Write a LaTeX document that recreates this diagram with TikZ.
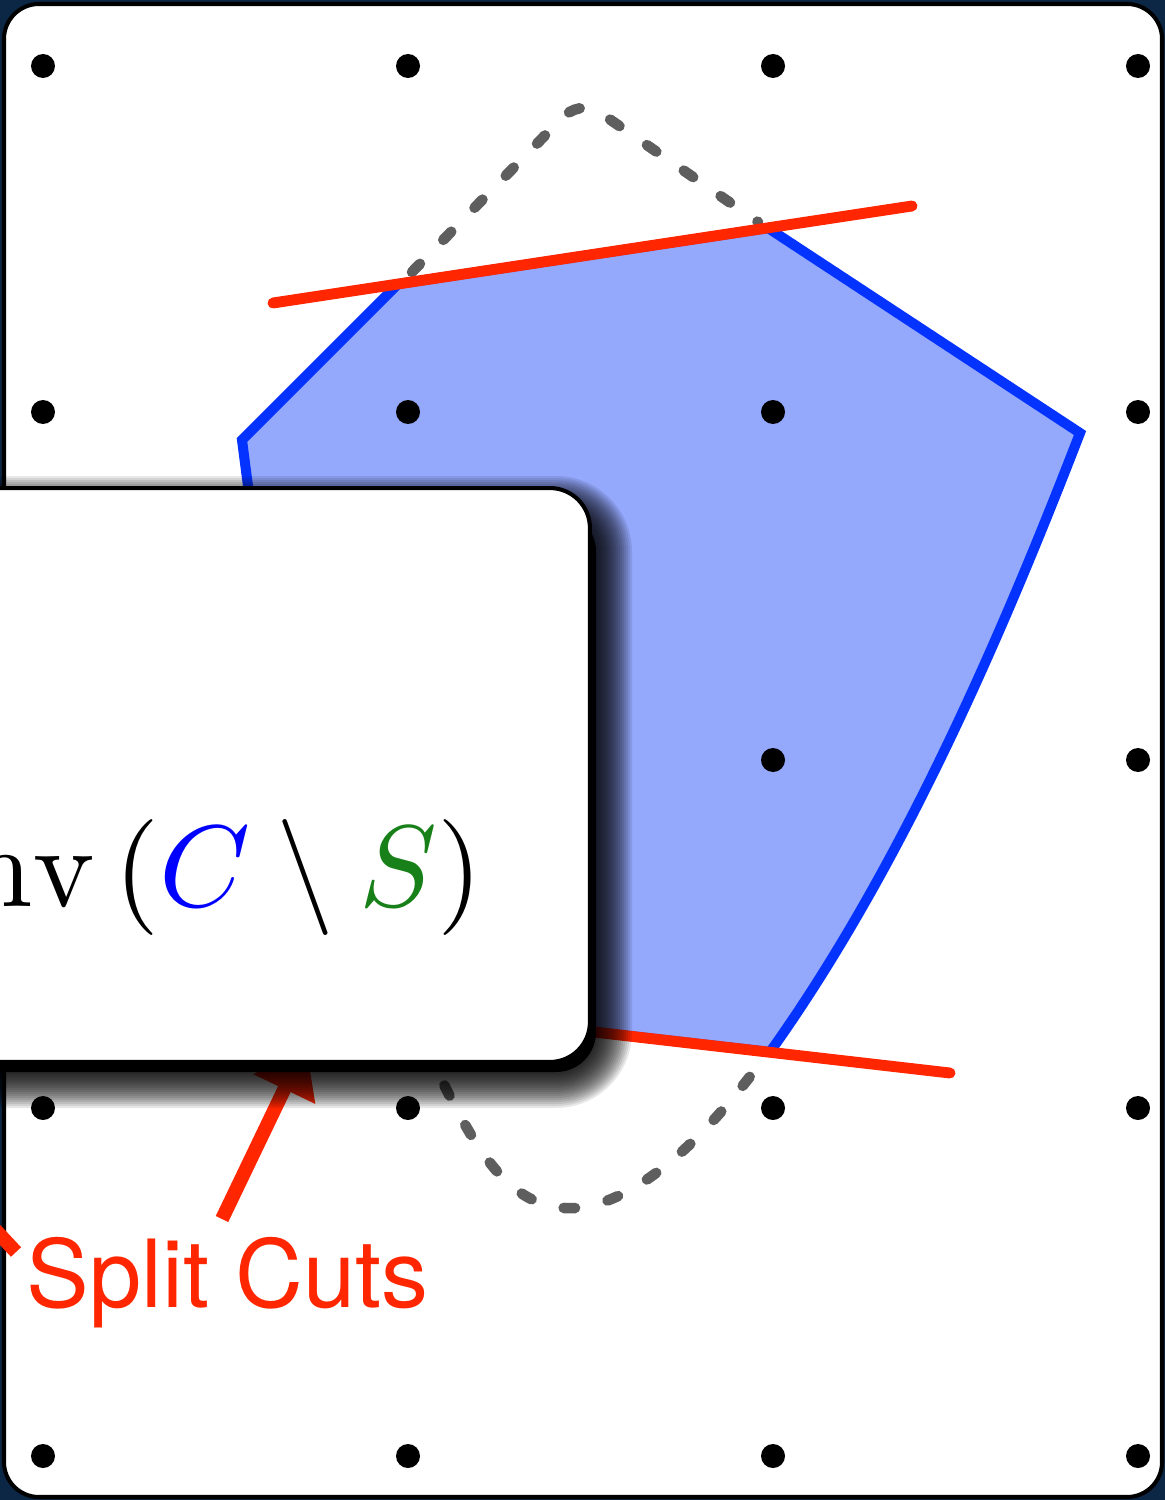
\documentclass[tikz,border=0pt]{standalone}
\usepackage{fontspec}
\newfontfamily\helv{TeX Gyre Heros}
\usetikzlibrary{arrows.meta}
\definecolor{slidebg}{RGB}{12,38,70}
\definecolor{cutred}{RGB}{255,38,0}
\definecolor{hullblue}{RGB}{4,51,255}
\definecolor{hullfill}{RGB}{148,168,252}
\definecolor{setgray}{RGB}{94,94,94}
\definecolor{sgreen}{RGB}{24,128,24}

\begin{document}
\begin{tikzpicture}[x=0.02cm, y=-0.02cm,
        frame/.style={draw=black, line width=2.3pt, fill=white, rounded corners=0.7cm},
        hull/.style={draw=hullblue, line width=5.7pt, fill=hullfill, line join=miter},
        orig/.style={draw=setgray, line width=6pt, line cap=round,
            dash pattern=on 6.5pt off 19pt},
        cut/.style={draw=cutred, line width=6.2pt, line cap=round},
        pointer/.style={draw=cutred, line width=7.9pt,
            -{Triangle[length=1cm, width=1.3cm]}},
        callout/.style={draw=black, line width=2.3pt, fill=white, rounded corners=0.8cm,
            minimum width=17.2cm, minimum height=11.48cm, inner sep=0pt}
    ]
    \useasboundingbox (0,0) rectangle (1165,1500);
    \clip (0,0) rectangle (1165,1500);
    \fill[slidebg] (0,0) rectangle (1165,1500);
    \draw[frame] (4,4) rectangle (1162,1497);

    % the set C
    \draw[orig] (412,272) -- (560,120) .. controls (572,107) and (586,104) .. (602,114) -- (758,222);
    \draw[orig] (425,1045) .. controls (470,1140) and (505,1212) .. (575,1208)
        .. controls (645,1203) and (720,1120) .. (768,1052);

    % the hull
    \draw[hull] (242,440) -- (398,284) -- (768,228) -- (1080,433)
        .. controls (1000,640) and (900,870) .. (770,1052) -- (450,1015.5) -- (255,540) -- cycle;

    \draw[cut] (273,303) -- (912,206);
    \draw[cut] (420,1012) -- (950,1073);

    \foreach \x in {43,408,773,1138}
        \foreach \y in {66,412,760,1108,1456}
            \fill (\x,\y) circle[radius=0.24cm];

    \node[text=cutred, font=\helv\fontsize{53.5}{60}\selectfont, anchor=base west, inner sep=0pt]
        (split) at (26,1307) {Split Cuts};
    \coordinate (tailA) at (222,1219);
    \coordinate (tipA) at (306,1044);
    \coordinate (tailB) at (16,1252);
    \coordinate (tipB) at (-70,1160);
    \draw[pointer] (tailA) -- (tipA);
    \draw[pointer] (tailB) -- (tipB);

    % soft shadow of the box
    \fill[black, rounded corners=0.8cm] (-250,512) rectangle (596,1072);
    \foreach \s in {2,4,...,36}{
        \pgfmathsetmacro\rc{0.8+0.02*\s}
        \fill[black, opacity=0.09, rounded corners=\rc cm] (-250-\s,512-\s) rectangle (596+\s,1072+\s);
    }
    \node[callout] (cbox) at (160,775) {};
    \node[anchor=base east, inner sep=0pt, scale=6.6, transform shape] (conv) at (485,906)
        {$\mathrm{conv}\left(\textcolor{blue}{C}\setminus\textcolor{sgreen}{S}\right)$};
\end{tikzpicture}
\end{document}
